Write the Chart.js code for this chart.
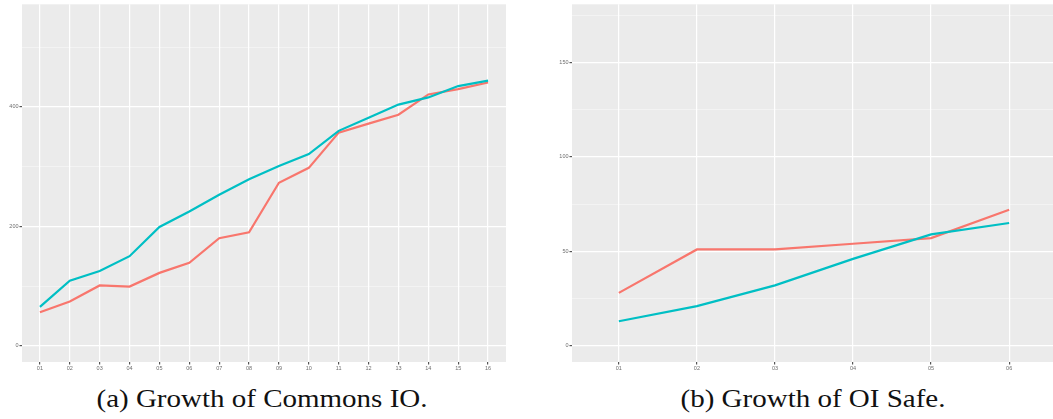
<!DOCTYPE html>
<html>
<head>
<meta charset="utf-8">
<script src="https://cdn.jsdelivr.net/npm/chart.js@4/dist/chart.umd.min.js"></script>
<style>
  html, body { margin: 0; padding: 0; background: #fff; overflow: hidden; }
  body { width: 1053px; height: 419px; position: relative; }
  canvas { position: absolute; top: 0; }
  #commonsChart { left: 0; }
  #safeChart { left: 530px; }
  .caption {
    position: absolute;
    top: 386px;
    font-family: 'Liberation Serif', serif;
    font-size: 25px;
    line-height: 25px;
    color: #111;
    white-space: nowrap;
    transform: translateX(-50%) scaleX(1.16);
  }
</style>
</head>
<body>
<canvas id="commonsChart" width="520" height="380"></canvas>
<canvas id="safeChart" width="526" height="380"></canvas>
<div class="caption" style="left: 262px;">(a) Growth of Commons IO.</div>
<div class="caption" style="left: 813px;">(b) Growth of OI Safe.</div>

<script>
// Commons IO (left panel)
const commonsLabels = ['01', '02', '03', '04', '05', '06', '07', '08', '09', '10', '11', '12', '13', '14', '15', '16'];
const commonsRed = [56, 74, 101, 99, 122, 139, 180, 190, 273, 298, 357, 372, 387, 421, 430, 441];
const commonsCyan = [65, 109, 125, 150, 199, 225, 253, 279, 301, 321, 360, 382, 404, 416, 435, 444];
const commonsTicks = [0, 100, 200, 300, 400, 500];
const commonsMajor = [0, 200, 400];

// OI Safe (right panel)
const safeLabels = ['01', '02', '03', '04', '05', '06'];
const safeRed = [28, 51, 51, 54, 57, 72];
const safeCyan = [13, 21, 32, 46, 59, 65];
const safeTicks = [0, 25, 50, 75, 100, 125, 150, 175];
const safeMajor = [0, 50, 100, 150];

const RED = '#F8766D';
const CYAN = '#00BFC4';
const TICK_COLOR = '#6e6e6e';

// grey ggplot-style panel behind the grid
const panelBackground = {
    id: 'panelBackground',
    beforeDraw(chart) {
        const { ctx, chartArea } = chart;
        ctx.save();
        ctx.fillStyle = '#EBEBEB';
        ctx.fillRect(chartArea.left, chartArea.top, chartArea.right - chartArea.left, chartArea.bottom - chartArea.top);
        ctx.restore();
    }
};

function toPoints(values) {
    return values.map((v, i) => ({ x: i + 1, y: v }));
}

function makeChart(canvasId, opts) {
    const canvas = document.getElementById(canvasId);
    const isMajor = (v) => opts.major.includes(v);

    return new Chart(canvas.getContext('2d'), {
        type: 'line',
        data: {
            datasets: [
                { data: toPoints(opts.cyan), borderColor: CYAN, borderWidth: 2.2, pointRadius: 0, tension: 0 },
                { data: toPoints(opts.red), borderColor: RED, borderWidth: 2.2, pointRadius: 0, tension: 0 }
            ]
        },
        options: {
            responsive: false,
            animation: false,
            devicePixelRatio: 1,
            layout: { padding: { left: 0, top: 4, right: opts.padRight, bottom: 0 } },
            plugins: { legend: { display: false }, tooltip: { enabled: false } },
            scales: {
                x: {
                    type: 'linear',
                    min: 0.4,
                    max: opts.labels.length + 0.6,
                    afterBuildTicks: (scale) => {
                        scale.ticks = opts.labels.map((_, i) => ({ value: i + 1 }));
                    },
                    afterFit: (scale) => { scale.height = canvas.height - 362; },
                    border: { display: false },
                    grid: { color: '#ffffff', lineWidth: 1.2, tickLength: 2.5, tickColor: '#555555' },
                    ticks: {
                        padding: 1,
                        color: TICK_COLOR,
                        font: { family: 'Liberation Sans', size: 5.5 },
                        maxRotation: 0,
                        autoSkip: false,
                        callback: (value) => opts.labels[value - 1]
                    }
                },
                y: {
                    min: opts.yMin,
                    max: opts.yMax,
                    afterBuildTicks: (scale) => {
                        scale.ticks = opts.ticks.map((v) => ({ value: v }));
                    },
                    afterFit: (scale) => { scale.width = opts.axisWidth; },
                    border: { display: false },
                    grid: {
                        color: (ctx) => isMajor(ctx.tick.value) ? '#ffffff' : 'rgba(255,255,255,0.7)',
                        lineWidth: (ctx) => isMajor(ctx.tick.value) ? 1.2 : 0.6,
                        tickLength: 2.5,
                        tickColor: (ctx) => isMajor(ctx.tick.value) ? '#555555' : 'rgba(0,0,0,0)'
                    },
                    ticks: {
                        padding: 1,
                        color: TICK_COLOR,
                        font: { family: 'Liberation Sans', size: 5.5 },
                        autoSkip: false,
                        callback: (value) => isMajor(value) ? String(value) : ''
                    }
                }
            }
        },
        plugins: [panelBackground]
    });
}

makeChart('commonsChart', {
    labels: commonsLabels, red: commonsRed, cyan: commonsCyan,
    ticks: commonsTicks, major: commonsMajor,
    yMin: -27.3, yMax: 572, axisWidth: 22, padRight: 14
});

makeChart('safeChart', {
    labels: safeLabels, red: safeRed, cyan: safeCyan,
    ticks: safeTicks, major: safeMajor,
    yMin: -8.6, yMax: 180.8, axisWidth: 42, padRight: 0
});
</script>
</body>
</html>
